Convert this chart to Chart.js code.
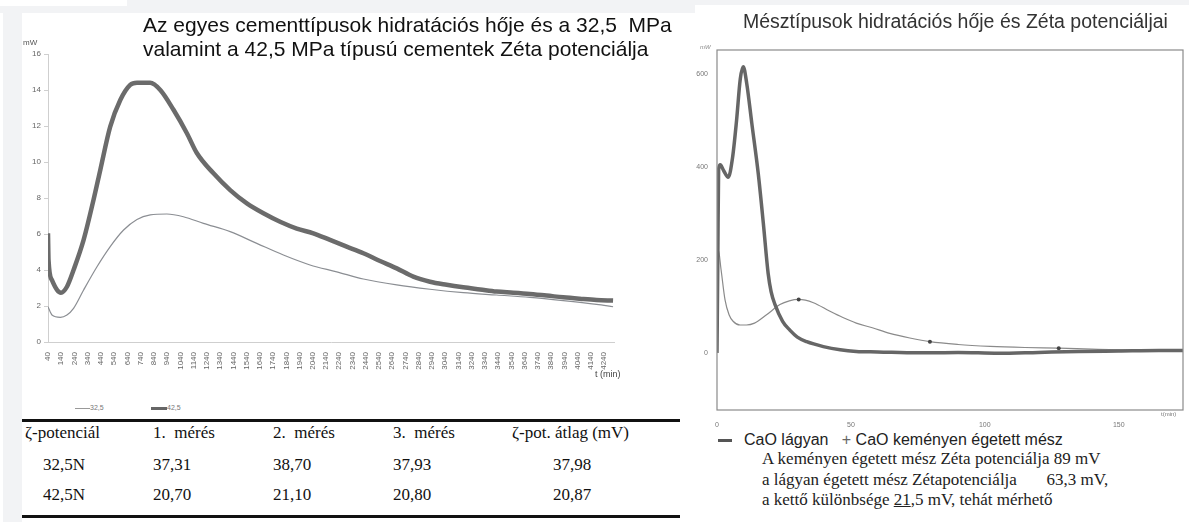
<!DOCTYPE html>
<html lang="hu">
<head>
<meta charset="UTF-8">
<title>Cement és mész hidratációs hő</title>
<script src="https://cdn.jsdelivr.net/npm/chart.js"></script>
<style>
  body { margin: 0; width: 1189px; height: 522px; position: relative; background: #fff; overflow: hidden; font-family: "Liberation Sans", Arial, sans-serif; }
  .abs { position: absolute; white-space: nowrap; }
  .gray { position: absolute; background: #f2f3f5; }
  .serif { font-family: "Liberation Serif", "Times New Roman", serif; }
  .cell { white-space: pre; font-size: 17px; line-height: 20px; color: #111; }
</style>
</head>
<body>
<div class="gray" style="left:127px;top:0;width:568px;height:13px"></div>
<div class="gray" style="left:0;top:6px;width:127px;height:7px"></div>
<div class="gray" style="left:695px;top:0;width:494px;height:5px"></div>
<div class="gray" style="left:3px;top:13px;width:19px;height:509px"></div>

<canvas id="c1" class="abs" width="690" height="400" style="left:0;top:0"></canvas>
<canvas id="c2" class="abs" width="499" height="430" style="left:690px;top:0"></canvas>

<!-- left chart texts -->
<div class="abs" style="left:143px;top:13px;font-size:21px;line-height:24px;color:#111">Az egyes cementtípusok hidratációs hője és a 32,5&nbsp; MPa<br>valamint a 42,5 MPa típusú cementek Zéta potenciálja</div>
<div class="abs" style="left:23px;top:38px;font-size:8px;color:#555">mW</div>
<div class="abs" style="left:595px;top:369px;font-size:9px;color:#444">t (min)</div>
<div class="abs" style="left:75px;top:404px;font-size:7px;color:#777"><span style="display:inline-block;width:15px;height:1px;background:#999;vertical-align:middle"></span>32,5</div>
<div class="abs" style="left:151px;top:404px;font-size:7px;color:#777"><span style="display:inline-block;width:16px;height:3px;background:#666;vertical-align:middle"></span>42,5</div>

<!-- zeta table -->
<div class="abs" style="left:22px;top:419px;width:658px;height:3px;background:#111"></div>
<div class="abs" style="left:22px;top:515px;width:658px;height:3px;background:#111"></div>
<div id="tbl"></div>

<!-- right chart texts -->
<div class="abs" style="left:743px;top:10px;font-size:19.5px;line-height:22px;color:#333">Mésztípusok hidratációs hője és Zéta potenciáljai</div>
<div class="abs" style="left:700px;top:44px;font-size:6px;color:#888;font-style:italic">mW</div>
<div class="abs" style="left:1161px;top:411px;font-size:6px;color:#777">t(min)</div>
<div class="abs" style="left:718px;top:431px;font-size:16px;line-height:18px;color:#222"><span style="display:inline-block;width:14px;height:3px;background:#555;vertical-align:middle;margin-right:12px"></span>CaO lágyan&nbsp;&nbsp; <span style="color:#666">+</span> CaO keményen égetett mész</div>
<div class="abs serif" style="left:762px;top:449px;font-size:17px;line-height:20.7px;color:#222">A keményen égetett mész Zéta potenciálja 89 mV<br>a lágyan égetett mész Zétapotenciálja&nbsp;&nbsp;&nbsp;&nbsp;&nbsp;&nbsp; 63,3 mV,<br>a kettő különbsége <span style="text-decoration:underline">21</span>,5 mV, tehát mérhető</div>

<script>
// bal diagram: cement hidratációs hő (mW), t (min)
const t325 = [40, 70, 133, 183, 233, 309, 410, 510, 611, 712, 812, 938, 1063, 1214, 1416, 1617, 1818, 2019, 2221, 2422, 2674, 2925, 3177, 3428, 3680, 3931, 4183, 4308];
const v325 = [1.96, 1.5, 1.37, 1.5, 1.87, 2.89, 4.18, 5.3, 6.22, 6.81, 7.06, 7.11, 6.96, 6.59, 6.13, 5.48, 4.83, 4.28, 3.9, 3.5, 3.17, 2.93, 2.74, 2.61, 2.48, 2.3, 2.09, 1.96];
const t425 = [40, 44, 70, 108, 138, 183, 233, 309, 384, 435, 510, 586, 661, 712, 812, 888, 988, 1089, 1164, 1290, 1416, 1542, 1667, 1793, 1919, 2044, 2170, 2296, 2422, 2548, 2674, 2799, 2925, 3051, 3177, 3303, 3428, 3554, 3680, 3806, 3931, 4057, 4183, 4308];
const v425 = [6.04, 4.55, 3.44, 2.9, 2.74, 3.07, 4.0, 5.67, 7.9, 9.56, 11.96, 13.44, 14.28, 14.4, 14.4, 14.0, 12.9, 11.6, 10.5, 9.37, 8.44, 7.7, 7.15, 6.68, 6.3, 6.04, 5.67, 5.3, 4.93, 4.5, 4.09, 3.63, 3.35, 3.18, 3.04, 2.92, 2.8, 2.74, 2.67, 2.58, 2.48, 2.4, 2.33, 2.3];
const xTicks = [40, 140, 240, 340, 440, 540, 640, 740, 840, 940, 1040, 1140, 1240, 1340, 1440, 1540, 1640, 1740, 1840, 1940, 2040, 2140, 2240, 2340, 2440, 2540, 2640, 2740, 2840, 2940, 3040, 3140, 3240, 3340, 3440, 3540, 3640, 3740, 3840, 3940, 4040, 4140, 4240];

// jobb diagram: mész hidratációs hő (mW), t (min)
const tLagy = [0, 0.3, 0.6, 1.2, 2.5, 4.2, 5.8, 7.3, 8.7, 9.8, 11.1, 13, 15.4, 17.3, 19.1, 20.2, 21.6, 24.5, 27.2, 30, 33.5, 39.7, 46, 52, 60, 75, 90, 105, 120, 135, 150, 165, 174];
const vLagy = [0, 200, 395, 405, 392, 378, 420, 500, 590, 616, 580, 494, 386, 279, 171, 132, 105, 68, 49, 34, 24, 13.5, 6.5, 3, 2, 0, 1, -1, 1, 3, 4, 5, 5];
const tKemeny = [0, 0.5, 1.5, 3, 4.5, 6, 8.6, 11, 14, 18.5, 23.5, 27, 30.5, 36, 42, 47, 52, 58, 64.5, 72, 79.5, 90, 102, 115, 127.6, 140, 155, 174];
const vKemeny = [0, 221, 180, 114, 82, 68, 60, 60, 64, 82, 104, 112, 115, 108, 90, 76, 64, 54, 42, 32, 24, 18, 14, 11.5, 10, 8, 6, 5];
const kemenyMarks = [30.5, 79.5, 127.6];
const rxTicks = [0, 50, 100, 150];
const ryTicks = [0, 200, 400, 600];

// zéta potenciál táblázat
const tblHead = ['ζ-potenciál', '1.  mérés', '2.  mérés', '3.  mérés', 'ζ-pot. átlag (mV)'];
const tblRows = [
  ['32,5N', '37,31', '38,70', '37,93', '37,98'],
  ['42,5N', '20,70', '21,10', '20,80', '20,87']
];

const headLeft = [25, 153, 273, 393, 512];
const rowLeft = [43, 153, 273, 393, 553];
const rowTop = [423, 455, 485];
let html = '';
tblHead.forEach((h, i) => {
  html += `<div class="abs serif cell" style="left:${headLeft[i]}px;top:${rowTop[0]}px">${h}</div>`;
});
tblRows.forEach((r, j) => {
  r.forEach((c, i) => {
    html += `<div class="abs serif cell" style="left:${rowLeft[i]}px;top:${rowTop[j + 1]}px">${c}</div>`;
  });
});
document.getElementById('tbl').innerHTML = html;

const pts = (ts, vs) => ts.map((t, i) => ({ x: t, y: vs[i] }));

new Chart(document.getElementById('c1'), {
  type: 'line',
  data: {
    datasets: [
      { label: '32,5', data: pts(t325, v325), borderColor: '#8b8e93', borderWidth: 1.2, pointRadius: 0, cubicInterpolationMode: 'monotone' },
      { label: '42,5', data: pts(t425, v425), borderColor: '#6b6b6b', borderWidth: 4.5, pointRadius: 0, cubicInterpolationMode: 'monotone' }
    ]
  },
  options: {
    responsive: false,
    animation: false,
    layout: { padding: { top: 54, right: 76, left: 0, bottom: 0 } },
    plugins: { legend: { display: false }, tooltip: { enabled: false } },
    scales: {
      x: {
        type: 'linear', min: 40, max: 4315,
        afterBuildTicks: s => { s.ticks = xTicks.map(v => ({ value: v })); },
        afterFit: s => { s.height = 58; },
        ticks: { autoSkip: false, minRotation: 90, maxRotation: 90, font: { size: 8 }, color: '#666', padding: 2, callback: v => String(v) },
        grid: { display: false },
        border: { color: '#cfcfcf' }
      },
      y: {
        min: 0, max: 16,
        afterFit: s => { s.width = 48; },
        ticks: { stepSize: 2, font: { size: 8 }, color: '#666', padding: 3 },
        grid: { drawOnChartArea: false, tickLength: 4, color: '#cfcfcf' },
        border: { color: '#cfcfcf' }
      }
    }
  }
});

const frame = {
  id: 'frame',
  afterDraw(chart) {
    const a = chart.chartArea, ctx = chart.ctx;
    ctx.save();
    ctx.strokeStyle = '#8a8a8a';
    ctx.lineWidth = 1.2;
    ctx.strokeRect(a.left, a.top, a.right - a.left, a.bottom - a.top);
    ctx.restore();
  }
};

new Chart(document.getElementById('c2'), {
  type: 'line',
  data: {
    datasets: [
      { label: 'CaO lágyan', data: pts(tLagy, vLagy), borderColor: '#666', borderWidth: 3.5, pointRadius: 0, cubicInterpolationMode: 'monotone' },
      { label: 'CaO keményen égetett mész', data: pts(tKemeny, vKemeny), borderColor: '#8a8a8a', borderWidth: 1.2,
        pointRadius: c => kemenyMarks.includes(tKemeny[c.dataIndex]) ? 2 : 0,
        pointBackgroundColor: '#444', pointBorderWidth: 0, cubicInterpolationMode: 'monotone' }
    ]
  },
  options: {
    responsive: false,
    animation: false,
    layout: { padding: { top: 50, right: 6, left: 0, bottom: 0 } },
    plugins: { legend: { display: false }, tooltip: { enabled: false } },
    scales: {
      x: {
        type: 'linear', min: 0, max: 174,
        afterBuildTicks: s => { s.ticks = rxTicks.map(v => ({ value: v })); },
        afterFit: s => { s.height = 20; },
        ticks: { maxRotation: 0, font: { size: 7 }, color: '#777', padding: 3, callback: v => String(v) },
        grid: { display: false },
        border: { display: false }
      },
      y: {
        min: -123, max: 652,
        afterBuildTicks: s => { s.ticks = ryTicks.map(v => ({ value: v })); },
        afterFit: s => { s.width = 27; },
        ticks: { font: { size: 7 }, color: '#777', padding: 1, callback: v => String(v) },
        grid: { display: false },
        border: { display: false }
      }
    }
  },
  plugins: [frame]
});
</script>
</body>
</html>
